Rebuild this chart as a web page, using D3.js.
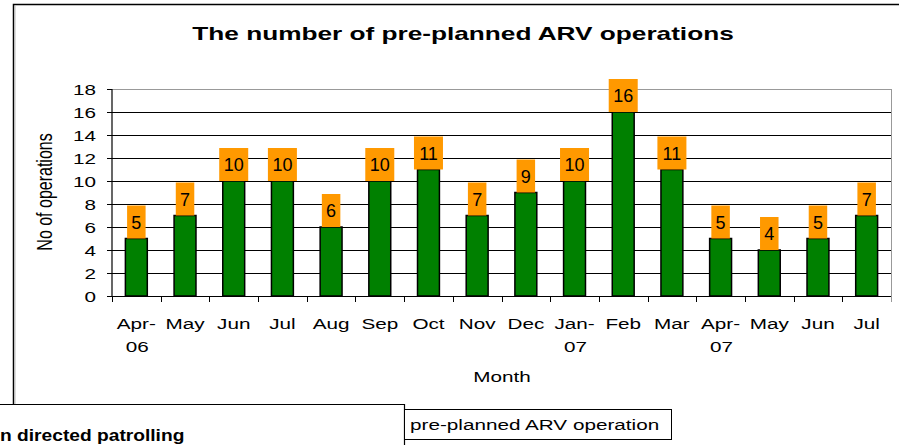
<!DOCTYPE html>
<html>
<head>
<meta charset="utf-8">
<script src="https://cdn.jsdelivr.net/npm/d3@7"></script>
<style>
  html, body { margin: 0; padding: 0; background: #fff; }
  svg { display: block; font-family: Arial, "Liberation Sans", sans-serif; }
</style>
</head>
<body>
<div id="chart"></div>
<script>
const months = ['Apr-\n06', 'May', 'Jun', 'Jul', 'Aug', 'Sep', 'Oct', 'Nov', 'Dec', 'Jan-\n07', 'Feb', 'Mar', 'Apr-\n07', 'May', 'Jun', 'Jul'];
const operations = [5, 7, 10, 10, 6, 10, 11, 7, 9, 10, 16, 11, 5, 4, 5, 7];
const yTicks = [0, 2, 4, 6, 8, 10, 12, 14, 16, 18];

const W = 899, H = 445;
const stretch = 1.38; // source picture is widened horizontally
const green = '#008000';
const orange = '#ff9900';

const svg = d3.select('#chart').append('svg').attr('width', W).attr('height', H);

// frame of the chart sheet
svg.append('path')
  .attr('d', `M13.5,405 V4.5 H${W}`)
  .attr('fill', 'none').attr('stroke', '#000').attr('stroke-width', 1.5);
svg.append('line').attr('x1', 15).attr('x2', 15).attr('y1', 6).attr('y2', 404)
  .attr('stroke', '#bbb').attr('stroke-width', 1);

const plot = { left: 112, right: 891, top: 89, bottom: 296 };

const x = d3.scaleBand()
  .domain(d3.range(months.length))
  .range([plot.left, plot.right])
  .paddingInner(0.55)
  .paddingOuter(0.275);

const y = d3.scaleLinear().domain([0, 18]).range([plot.bottom, plot.top]);

function stretchedText(sel, px, py, size, weight) {
  return sel.append('text')
    .attr('transform', `translate(${px},${py}) scale(${stretch},1)`)
    .attr('font-size', size)
    .attr('font-weight', weight || 'normal')
    .attr('fill', '#000');
}

// title
stretchedText(svg, 463, 40, 19, 'bold').attr('text-anchor', 'middle')
  .text('The number of pre-planned ARV operations');

// grid lines
svg.append('g').selectAll('line')
  .data(yTicks.filter(d => d > 0))
  .join('line')
  .attr('x1', plot.left).attr('x2', plot.right)
  .attr('y1', d => Math.round(y(d)) + 0.5).attr('y2', d => Math.round(y(d)) + 0.5)
  .attr('stroke', d => d === 18 ? '#999' : '#000')
  .attr('stroke-width', 1);

// right border of plot area
svg.append('line')
  .attr('x1', plot.right + 0.5).attr('x2', plot.right + 0.5)
  .attr('y1', y(18)).attr('y2', plot.bottom + 5)
  .attr('stroke', '#999');

// y axis
const yAxis = svg.append('g').attr('transform', `translate(${plot.left},0)`);
yAxis.append('line').attr('x1', 0).attr('x2', 0).attr('y1', y(18)).attr('y2', y(0)).attr('stroke', '#000').attr('stroke-width', 1.2);
yAxis.selectAll('line.tick').data(yTicks).join('line').attr('class', 'tick')
  .attr('x1', -5).attr('x2', 0)
  .attr('y1', d => Math.round(y(d)) + 0.5).attr('y2', d => Math.round(y(d)) + 0.5)
  .attr('stroke', '#000');
yTicks.forEach(t => {
  stretchedText(svg, 96, y(t) + 5.5, 15).attr('text-anchor', 'end').text(t);
});

// y axis title
svg.append('text')
  .attr('transform', `translate(52,192) scale(${stretch},1) rotate(-90)`)
  .attr('text-anchor', 'middle')
  .attr('font-size', 16)
  .text('No of operations');

// x axis
const step = x.step();
const xAxis = svg.append('g');
xAxis.append('line').attr('x1', plot.left - 5).attr('x2', plot.right)
  .attr('y1', plot.bottom + 0.5).attr('y2', plot.bottom + 0.5).attr('stroke', '#000').attr('stroke-width', 1.2);
xAxis.selectAll('line.tick').data(d3.range(months.length + 1)).join('line').attr('class', 'tick')
  .attr('x1', i => Math.round(plot.left + i * step) + 0.5).attr('x2', i => Math.round(plot.left + i * step) + 0.5)
  .attr('y1', plot.bottom).attr('y2', plot.bottom + 6)
  .attr('stroke', d => d === months.length ? '#999' : '#000');

months.forEach((m, i) => {
  const cx = x(i) + x.bandwidth() / 2;
  m.split('\n').forEach((ln, k) => {
    stretchedText(svg, cx + (k === 1 ? 1 : 0), 329 + k * 23, 15).attr('text-anchor', 'middle').text(ln);
  });
});

stretchedText(svg, 502, 382, 15).attr('text-anchor', 'middle').text('Month');

// bars
svg.append('g').selectAll('rect')
  .data(operations)
  .join('rect')
  .attr('x', (d, i) => x(i))
  .attr('y', d => y(d))
  .attr('width', x.bandwidth())
  .attr('height', d => y(0) - y(d))
  .attr('fill', green)
  .attr('stroke', '#000')
  .attr('stroke-width', 1.5);

// value labels with orange background
const labels = svg.append('g').selectAll('g')
  .data(operations)
  .join('g')
  .attr('transform', (d, i) => `translate(${x(i) + x.bandwidth() / 2},${y(d)})`);

labels.append('rect')
  .attr('x', d => -(String(d).length * 10.5 + 8) / 2)
  .attr('y', -33)
  .attr('width', d => String(d).length * 10.5 + 8)
  .attr('height', 33)
  .attr('fill', orange);

labels.append('text')
  .attr('y', -10)
  .attr('text-anchor', 'middle')
  .attr('font-size', 18)
  .attr('fill', '#000')
  .text(d => d);

// neighbouring chart title box (cut off at the bottom)
svg.append('path')
  .attr('d', 'M0,404.5 H404.5 V445')
  .attr('fill', 'none').attr('stroke', '#000').attr('stroke-width', 1.2);
svg.append('text')
  .attr('transform', 'translate(0,441) scale(1.2,1)')
  .attr('font-size', 16).attr('font-weight', 'bold')
  .text('n directed patrolling');

// legend box
svg.append('rect')
  .attr('x', 404.5).attr('y', 409.5).attr('width', 267).attr('height', 30)
  .attr('fill', '#fff').attr('stroke', '#000').attr('stroke-width', 1);
stretchedText(svg, 410, 430, 15).text('pre-planned ARV operation');
</script>
</body>
</html>
